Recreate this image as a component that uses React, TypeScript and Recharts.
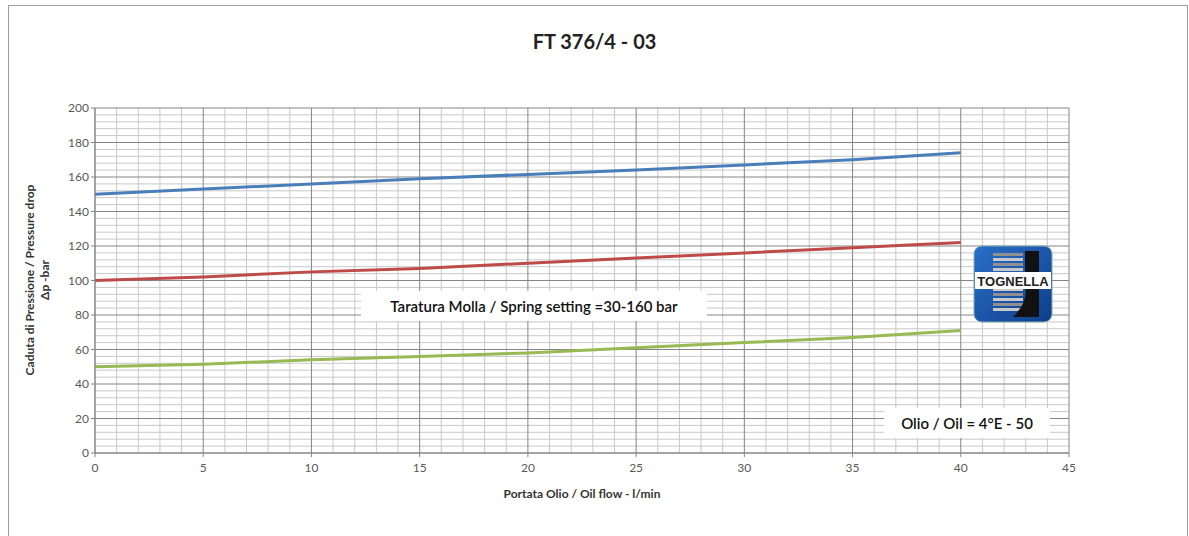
import React from 'react';
import { LineChart, Line, XAxis, YAxis, ReferenceLine, Customized } from 'recharts';

const flow = [0, 5, 10, 15, 20, 25, 30, 35, 40];
const setting160 = [150, 153, 156, 159, 161.5, 164, 167, 170, 174];
const setting110 = [100, 102, 105, 107, 110, 113, 116, 119, 122];
const setting50 = [50, 51.5, 54, 56, 58, 61, 64, 67, 71];

const xTicks = [0, 5, 10, 15, 20, 25, 30, 35, 40, 45];
const yTicks = [0, 20, 40, 60, 80, 100, 120, 140, 160, 180, 200];
const xMinor = Array.from({ length: 46 }, (_, i) => i).filter((v) => v % 5 !== 0);
const yMinor = Array.from({ length: 51 }, (_, i) => i * 4).filter((v) => v % 20 !== 0);

const data = flow.map((f, i) => ({ flow: f, a: setting160[i], b: setting110[i], c: setting50[i] }));

const FONT = 'Lato, "Open Sans", sans-serif';

const Logo = () => (
    <svg width={80} height={78} style={{ position: 'absolute', left: 973, top: 245 }}>
        <defs>
            <linearGradient id="lg" x1="0" y1="0" x2="1" y2="1">
                <stop offset="0" stopColor="#2a6fc9" />
                <stop offset="1" stopColor="#0e3f8a" />
            </linearGradient>
        </defs>
        <rect x={1} y={1} width={78} height={76} rx={8} fill="url(#lg)" stroke="#8aa" />
        {Array.from({ length: 12 }, (_, i) => (
            <rect key={i} x={20} y={8 + i * 5} width={30} height={3} fill={i % 2 ? '#c8c8c8' : '#909090'} />
        ))}
        <path d="M52 6 L66 6 L66 72 L40 72 Q56 56 52 40 Z" fill="#111" />
        <rect x={2} y={27} width={76} height={17} fill="#fff" />
        <text x={40} y={41} textAnchor="middle" fontFamily="Arial, sans-serif" fontWeight="bold" fontSize={13} fill="#222">TOGNELLA</text>
    </svg>
);

const YLabel = () => (
    <g fontFamily={FONT} fontWeight="bold" fontSize={12} fill="#333">
        <text transform="translate(34,280) rotate(-90)" textAnchor="middle">Caduta di Pressione / Pressure drop</text>
        <text transform="translate(49,280) rotate(-90)" textAnchor="middle">Δp -bar</text>
    </g>
);

const boxStyle: React.CSSProperties = {
    position: 'absolute',
    height: 30,
    background: '#fff',
    fontFamily: FONT,
    fontWeight: 600,
    fontSize: 15,
    color: '#111',
    display: 'flex',
    alignItems: 'center',
    justifyContent: 'center',
};

export default function App() {
    return (
        <div style={{ position: 'absolute', left: 0, top: 0, width: 1189, height: 536, background: '#fff', overflow: 'hidden' }}>
            <div style={{ position: 'absolute', left: 8, top: 5, width: 1178, height: 540, border: '1px solid #a0a0a0' }} />
            <div style={{ position: 'absolute', left: 0, width: 1189, top: 29, textAlign: 'center', fontFamily: FONT, fontWeight: 'bold', fontSize: 20, color: '#222' }}>
                FT 376/4 - 03
            </div>
            <div style={{ position: 'absolute', left: 0, top: 0 }}>
                <LineChart width={1189} height={536} data={data} margin={{ top: 108, right: 120, bottom: 0, left: 0 }}>
                    {xMinor.map((v) => (
                        <ReferenceLine key={'xm' + v} x={v} stroke="#c8c8c8" strokeWidth={1} />
                    ))}
                    {yMinor.map((v) => (
                        <ReferenceLine key={'ym' + v} y={v} stroke="#c8c8c8" strokeWidth={1} />
                    ))}
                    {xTicks.map((v) => (
                        <ReferenceLine key={'xM' + v} x={v} stroke="#858585" strokeWidth={1} />
                    ))}
                    {yTicks.map((v) => (
                        <ReferenceLine key={'yM' + v} y={v} stroke="#858585" strokeWidth={1} />
                    ))}
                    <XAxis
                        dataKey="flow"
                        type="number"
                        domain={[0, 45]}
                        ticks={xTicks}
                        interval={0}
                        stroke="#858585"
                        tickSize={4}
                        tick={{ fill: '#595959', fontSize: 12, fontFamily: FONT }}
                        tickMargin={6}
                        height={83}
                        label={{ value: 'Portata Olio / Oil flow -  l/min', position: 'insideTop', offset: 36, fill: '#333', fontSize: 12, fontWeight: 'bold', fontFamily: FONT }}
                    />
                    <YAxis
                        type="number"
                        domain={[0, 200]}
                        ticks={yTicks}
                        interval={0}
                        stroke="#858585"
                        tickSize={4}
                        width={95}
                        tick={{ fill: '#595959', fontSize: 12, fontFamily: FONT }}
                    />
                    <Line dataKey="a" type="linear" stroke="#4a7ebb" strokeWidth={3} dot={false} isAnimationActive={false} />
                    <Line dataKey="b" type="linear" stroke="#be4b48" strokeWidth={3} dot={false} isAnimationActive={false} />
                    <Line dataKey="c" type="linear" stroke="#98b954" strokeWidth={3} dot={false} isAnimationActive={false} />
                    <Customized component={YLabel} />
                </LineChart>
            </div>
            <div style={{ ...boxStyle, left: 361, top: 291, width: 346 }}>
                Taratura Molla / Spring setting =30-160 bar
            </div>
            <div style={{ ...boxStyle, left: 884, top: 408, width: 166 }}>
                Olio / Oil = 4°E - 50
            </div>
            <Logo />
        </div>
    );
}
